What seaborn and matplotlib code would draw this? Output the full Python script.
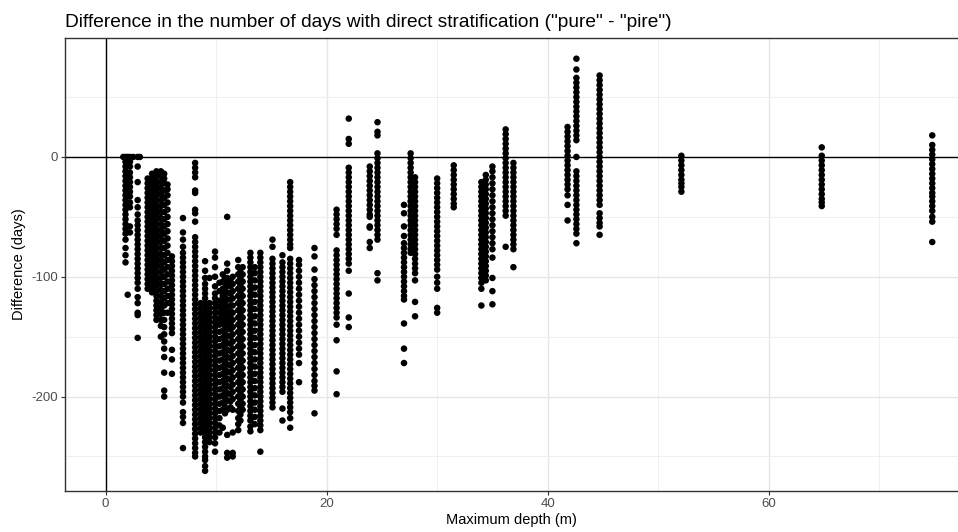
import matplotlib
matplotlib.use("Agg")
import matplotlib.pyplot as plt
import seaborn as sns
import pandas as pd
from matplotlib.ticker import MultipleLocator

# ---- data: depth (m) and differences (days) per depth column ----
depths = [1.6, 1.8, 2.0, 2.2, 2.5, 2.9, 3.1,
          3.8, 4.2, 4.6, 5.0, 5.3, 5.6, 6.0, 7.0, 8.1,
          8.6, 9.0, 9.4, 9.9, 10.3, 10.6, 11.0, 11.5, 12.0, 12.4,
          13.1, 14.0, 15.1, 16.0, 16.7, 17.5, 18.9, 20.9, 22.0,
          23.9, 24.6, 27.0, 27.6, 28.0, 30.0, 31.5, 34.0, 34.4, 35.0,
          36.2, 36.9, 41.8, 42.6, 44.7, 52.1, 64.8, 74.8,
          10.8, 11.3, 12.2, 13.5]

diffs = [
    [0],
    [0, -4, -8, -12, -16, -20, -24, -28, -32, -36, -40, -44, -48, -52, -56, -60, -64, -69, -76, -82, -88],
    [0, -3, -115],
    [0, -4, -8, -13, -17, -21, -25, -29, -33, -38, -42, -58, -63],
    [0],
    [0, -8, -21, -36, -42, -48, -53, -57, -61, -65, -69, -73, -77, -81, -85, -89, -93, -97, -101, -105, -110, -117, -122, -130, -132, -151],
    [0],
    [-18, -22, -26, -30, -34, -38, -42, -46, -50, -54, -58, -62, -66, -70, -74, -78, -82, -86, -90, -94, -98, -102, -106, -110],
    [-14, -18, -22, -26, -30, -34, -38, -42, -46, -50, -54, -58, -62, -66, -70, -74, -78, -82, -86, -90, -94, -98, -102, -106, -110, -113],
    [-12, -16, -20, -24, -28, -32, -36, -40, -44, -48, -52, -56, -60, -64, -68, -72, -76, -80, -84, -88, -92, -96, -100, -104, -108, -112, -116, -120, -124, -128, -132, -136],
    [-12, -16, -21, -26, -31, -36, -41, -46, -51, -56, -61, -66, -71, -76, -81, -86, -91, -96, -101, -106, -111, -116, -121, -126, -131, -136, -141, -150],
    [-14, -18, -22, -28, -34, -40, -46, -52, -58, -64, -70, -76, -82, -88, -94, -100, -106, -112, -118, -124, -130, -136, -142, -148, -154, -160, -167, -180, -195, -200],
    [-23, -27, -32, -38, -44, -50, -56, -62, -68, -74, -80, -86, -92, -98, -104, -110, -116, -122, -130],
    [-83, -87, -91, -95, -99, -103, -107, -111, -115, -119, -123, -127, -131, -135, -139, -143, -147, -161, -169, -181],
    [-51, -63, -69, -75, -80, -84, -88, -92, -96, -100, -104, -108, -112, -116, -120, -124, -128, -132, -136, -140, -144, -148, -152, -156, -160, -164, -168, -172, -176, -180, -184, -188, -192, -196, -200, -205, -213, -217, -222, -243],
    [-5, -9, -13, -17, -28, -30, -44, -47, -54, -67, -71, -75, -79, -83, -87, -91, -95, -99, -103, -107, -111, -115, -119, -123, -127, -131, -135, -139, -143, -147, -151, -155, -159, -163, -167, -171, -175, -179, -183, -187, -191, -195, -199, -203, -207, -211, -215, -219, -223, -227, -231, -235, -239, -243, -247, -250],
    [-122, -126, -130, -134, -138, -142, -146, -150, -154, -158, -162, -166, -170, -174, -178, -182, -186, -190, -194, -198, -202, -206, -210, -214, -218, -222, -226, -230],
    [-87, -95, -101, -106, -110, -114, -118, -122, -126, -130, -134, -138, -142, -146, -150, -154, -158, -162, -166, -170, -174, -178, -182, -186, -190, -194, -198, -202, -206, -210, -214, -218, -222, -226, -230, -234, -238, -242, -246, -250, -253, -258, -262],
    [-101, -122, -126, -130, -134, -138, -142, -146, -150, -154, -158, -162, -166, -170, -174, -178, -182, -186, -190, -194, -198, -202, -206, -210, -214, -218, -222, -226, -230, -234, -238],
    [-79, -84, -92, -100, -108, -114, -118, -122, -126, -130, -134, -138, -142, -146, -150, -154, -158, -162, -166, -170, -174, -178, -182, -186, -190, -194, -198, -202, -206, -210, -214, -218, -222, -226, -230, -234, -239, -246],
    [-105, -112, -120, -125, -130, -135, -140, -146, -152, -158, -164, -170, -176, -182, -188, -194, -200, -206, -212, -218, -224, -230],
    [-98, -104, -110, -116, -121, -127, -133, -139, -145, -151, -157, -163, -169, -175, -181, -187, -193, -199, -205, -211, -226],
    [-50, -89, -95, -101, -107, -113, -119, -125, -131, -137, -143, -149, -155, -161, -167, -173, -179, -185, -191, -197, -203, -211, -232, -247, -251],
    [-100, -106, -112, -118, -124, -130, -136, -142, -148, -154, -160, -166, -172, -178, -184, -190, -196, -202, -211, -230, -247, -250],
    [-86, -92, -98, -104, -110, -116, -122, -128, -134, -140, -146, -152, -158, -164, -170, -176, -182, -188, -194, -200, -206, -212, -218, -223, -228],
    [-92, -98, -104, -110, -116, -122, -128, -134, -140, -146, -152, -158, -164, -170, -176, -182, -188, -194, -200, -206, -211],
    [-80, -84, -88, -92, -96, -100, -104, -108, -112, -116, -120, -124, -128, -132, -136, -140, -144, -148, -152, -156, -160, -164, -168, -172, -176, -180, -184, -188, -192, -196, -200, -204, -208, -212, -216, -220, -225, -229],
    [-80, -84, -88, -92, -96, -100, -104, -108, -112, -116, -120, -124, -128, -132, -136, -140, -144, -148, -152, -156, -160, -164, -168, -172, -176, -180, -184, -188, -192, -196, -200, -204, -208, -212, -216, -220, -224, -228, -246],
    [-69, -75, -85, -89, -93, -97, -101, -105, -109, -113, -117, -121, -125, -129, -133, -137, -141, -145, -149, -153, -157, -161, -165, -169, -173, -177, -181, -185, -189, -193, -197, -201, -205, -209],
    [-82, -88, -92, -96, -100, -104, -108, -112, -116, -120, -124, -128, -132, -136, -140, -144, -148, -152, -156, -160, -164, -168, -172, -176, -180, -184, -188, -192, -196, -210, -220],
    [-21, -25, -29, -33, -37, -41, -45, -49, -53, -57, -61, -65, -69, -73, -76, -85, -89, -93, -97, -101, -105, -109, -113, -117, -121, -125, -129, -133, -137, -141, -145, -149, -153, -157, -161, -165, -169, -173, -177, -181, -185, -189, -193, -197, -201, -205, -209, -213, -218, -226],
    [-86, -90, -95, -100, -105, -110, -115, -120, -125, -130, -135, -140, -145, -150, -155, -160, -165, -172, -188],
    [-76, -83, -94, -102, -107, -112, -117, -122, -127, -132, -137, -142, -147, -152, -157, -162, -167, -172, -177, -182, -187, -191, -195, -214],
    [-44, -48, -52, -56, -60, -65, -78, -82, -86, -90, -94, -98, -102, -106, -110, -114, -118, -122, -126, -130, -134, -140, -153, -179, -198],
    [32, 15, 11, -9, -13, -17, -21, -25, -29, -33, -37, -41, -45, -49, -53, -57, -61, -65, -69, -73, -77, -81, -85, -89, -95, -114, -134, -142],
    [-8, -12, -16, -20, -24, -28, -32, -36, -40, -44, -48, -50, -58, -59, -71, -76],
    [29, 21, 18, 3, -1, -5, -9, -13, -17, -21, -25, -29, -33, -37, -41, -45, -49, -53, -57, -61, -65, -69, -97, -103],
    [-40, -47, -58, -66, -72, -76, -80, -84, -88, -92, -96, -100, -104, -108, -112, -116, -119, -139, -160, -172],
    [3, -1, -5, -9, -13, -17, -21, -25, -29, -33, -37, -41, -45, -49, -53, -57, -61, -65, -69, -73, -77, -80],
    [-17, -21, -25, -29, -33, -37, -41, -45, -49, -53, -57, -61, -65, -69, -73, -77, -81, -85, -89, -93, -97, -103, -121, -133],
    [-18, -22, -26, -30, -34, -38, -42, -46, -50, -54, -58, -62, -66, -70, -74, -78, -82, -86, -90, -94, -100, -105, -110, -126, -130],
    [-7, -11, -15, -19, -23, -27, -31, -35, -39, -42],
    [-21, -25, -29, -33, -37, -41, -45, -49, -53, -57, -61, -65, -69, -73, -77, -81, -85, -89, -93, -97, -101, -105, -110, -124],
    [-15, -19, -23, -27, -31, -35, -39, -43, -47, -51, -55, -59, -63, -67, -71, -75, -79, -83, -87, -91, -95, -99, -103],
    [-8, -12, -17, -22, -27, -32, -37, -42, -47, -52, -57, -62, -67, -72, -77, -84, -101, -112, -123],
    [23, 19, 15, 11, 7, 3, -1, -5, -9, -13, -17, -21, -25, -29, -33, -37, -41, -45, -49, -75],
    [-5, -9, -13, -17, -21, -25, -29, -33, -37, -41, -45, -49, -53, -57, -61, -65, -69, -73, -77, -92],
    [25, 21, 17, 13, 9, 5, 1, -3, -7, -11, -15, -19, -23, -27, -32, -40, -53],
    [82, 73, 66, 62, 58, 54, 50, 46, 42, 38, 34, 30, 26, 22, 18, 14, 0, -12, -16, -20, -24, -28, -32, -36, -40, -44, -48, -52, -56, -60, -64, -72],
    [68, 64, 60, 56, 52, 48, 44, 40, 36, 32, 28, 24, 20, 16, 12, 8, 4, 0, -4, -8, -12, -16, -20, -24, -28, -32, -36, -40, -47, -51, -55, -58, -65],
    [1, -3, -7, -11, -15, -19, -22, -25, -29],
    [8, 1, -3, -7, -11, -15, -19, -23, -27, -31, -35, -38, -41],
    [18, 10, 6, 2, -2, -6, -10, -14, -18, -22, -26, -30, -33, -37, -41, -45, -50, -54, -71],
    [-101, -105, -109, -113, -117, -121, -125, -129, -133, -137, -141, -145, -149, -153, -157, -161, -165, -169, -173, -177, -181, -185, -189, -193, -197, -201, -205, -209, -214],
    [-104, -108, -114, -119, -124, -129, -134, -139, -144, -150, -156, -162, -168, -174, -180, -186, -192, -198, -204, -209],
    [-96, -101, -107, -113, -119, -125, -131, -137, -143, -149, -155, -161, -167, -173, -179, -185, -191, -197, -203, -209, -215, -220],
    [-92, -97, -103, -109, -115, -121, -127, -133, -139, -145, -151, -157, -163, -169, -175, -181, -187, -193, -199, -205, -211, -217, -223],
]

title = 'Difference in the number of days with direct stratification ("pure" - "pire")'
x_label = "Maximum depth (m)"
y_label = "Difference (days)"
x_ticks = [0, 20, 40, 60]
y_ticks = [-200, -100, 0]

rows = []
for d, vals in zip(depths, diffs):
    for v in vals:
        rows.append((d, v))
df = pd.DataFrame(rows, columns=["depth", "diff"])

# ---- plotting ----
sns.set_theme(style="whitegrid")
plt.rcParams["font.family"] = ["Liberation Sans", "DejaVu Sans"]
plt.rcParams["axes.unicode_minus"] = False

fig = plt.figure(figsize=(9.58, 5.32), dpi=100)
ax = fig.add_axes([0.0678, 0.0771, 0.9322, 0.8515])
ax.set_facecolor("white")

ax.axhline(0, color="black", lw=1.0, zorder=1)
ax.axvline(0, color="black", lw=1.0, zorder=1)

sns.scatterplot(data=df, x="depth", y="diff", ax=ax, color="black",
                s=22, linewidth=0, edgecolor="none", zorder=3, legend=False)

ax.set_xlim(-3.68, 77.13)
ax.set_ylim(-278.8, 99.3)
ax.set_xticks(x_ticks)
ax.set_yticks(y_ticks)
ax.xaxis.set_minor_locator(MultipleLocator(10))
ax.yaxis.set_minor_locator(MultipleLocator(50))
ax.grid(True, which="major", color="#E6E6E6", lw=1.0)
ax.grid(True, which="minor", color="#EFEFEF", lw=0.7)
ax.set_axisbelow(True)

for side in ["left", "top", "bottom"]:
    ax.spines[side].set_visible(True)
    ax.spines[side].set_color("#333333")
    ax.spines[side].set_linewidth(1.0)
ax.spines["right"].set_visible(False)

ax.tick_params(axis="both", which="major", length=3, width=0.8, color="#333333",
               labelsize=9.5, labelcolor="#4D4D4D", pad=2, bottom=True, left=True)
ax.tick_params(axis="both", which="minor", length=0)

ax.set_xlabel(x_label, fontsize=10.5, color="black", labelpad=2)
ax.set_ylabel(y_label, fontsize=10.5, color="black", labelpad=4)
ax.set_title(title, loc="left", fontsize=13.8, color="black", pad=8)

fig.savefig("out.png", dpi=100)
